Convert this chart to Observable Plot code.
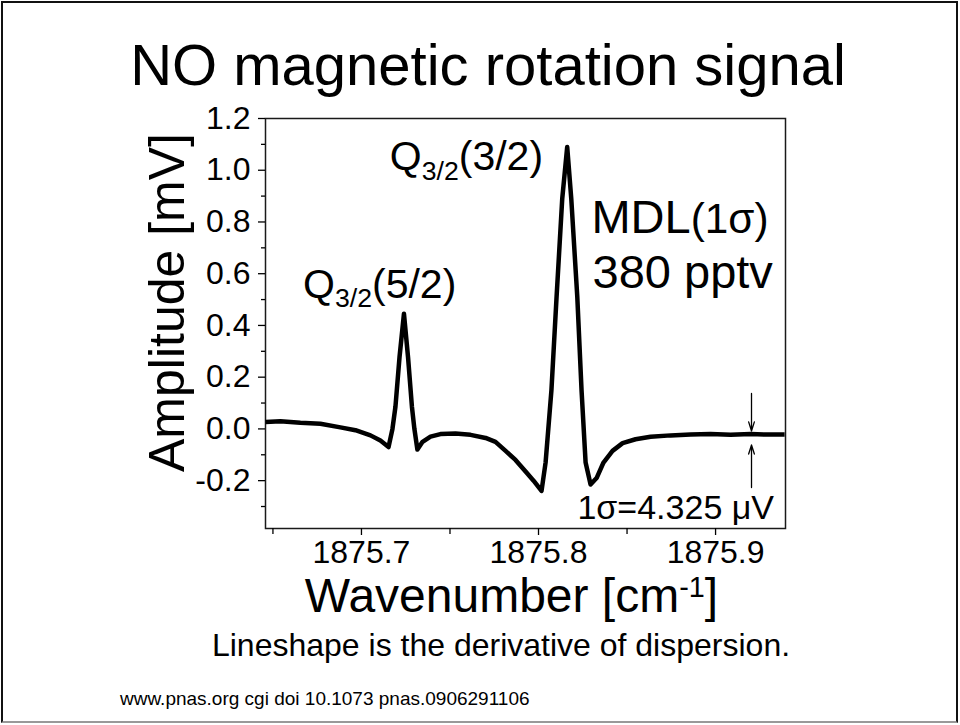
<!DOCTYPE html>
<html><head><meta charset="utf-8">
<script src="https://cdn.jsdelivr.net/npm/d3@7"></script>
<script src="https://cdn.jsdelivr.net/npm/@observablehq/plot@0.6"></script>
<style>
body{margin:0;background:#fff;}
#slide{position:relative;width:960px;height:725px;overflow:hidden;font-family:"Liberation Sans",Arial,Helvetica,sans-serif;color:#000;background:#fff;}
#border{position:absolute;left:1px;top:1px;width:957px;height:722px;box-sizing:border-box;border:2px solid #111;border-bottom-color:#999;}
#title{position:absolute;left:8px;top:36px;width:960px;text-align:center;font-size:58px;line-height:1;white-space:nowrap;}
#chart{position:absolute;left:0;top:100px;}
#caption{position:absolute;left:21px;top:629px;width:960px;text-align:center;font-size:32px;line-height:1;white-space:nowrap;}
#footer{position:absolute;left:120px;top:689px;font-size:19px;line-height:1;white-space:nowrap;}
</style></head>
<body>
<div id="slide">
  <div id="border"></div>
  <div id="title">NO magnetic rotation signal</div>
  <div id="chart"></div>
  <div id="caption">Lineshape is the derivative of dispersion.</div>
  <div id="footer">www.pnas.org cgi doi 10.1073 pnas.0906291106</div>
</div>
<script>
// Measured trace (wavenumber in cm^-1, amplitude in mV)
const wavenumber = [1875.6458, 1875.6542, 1875.6655, 1875.6768, 1875.6881, 1875.6966, 1875.7051, 1875.7107, 1875.7153, 1875.7175, 1875.7192, 1875.7215, 1875.7240, 1875.7263, 1875.7285, 1875.7299, 1875.7316, 1875.7345, 1875.7390, 1875.7446, 1875.7531, 1875.7616, 1875.7701, 1875.7757, 1875.7814, 1875.7870, 1875.7927, 1875.7972, 1875.8017, 1875.8040, 1875.8073, 1875.8102, 1875.8134, 1875.8162, 1875.8185, 1875.8219, 1875.8243, 1875.8266, 1875.8294, 1875.8328, 1875.8367, 1875.8418, 1875.8475, 1875.8548, 1875.8633, 1875.8746, 1875.8859, 1875.8972, 1875.9085, 1875.9198, 1875.9311, 1875.9390];
const amplitude = [0.027, 0.030, 0.024, 0.020, 0.006, -0.005, -0.025, -0.045, -0.070, 0.000, 0.086, 0.278, 0.445, 0.278, 0.086, 0.000, -0.080, -0.050, -0.030, -0.020, -0.018, -0.023, -0.035, -0.050, -0.085, -0.120, -0.165, -0.200, -0.240, -0.130, 0.150, 0.510, 0.890, 1.090, 0.890, 0.510, 0.150, -0.130, -0.215, -0.190, -0.130, -0.085, -0.055, -0.040, -0.030, -0.025, -0.022, -0.020, -0.023, -0.020, -0.022, -0.022];

const xDomain = [1875.6458, 1875.9395];
const yDomain = [-0.385, 1.2];
const xTicks = [1875.7, 1875.8, 1875.9];
const xMinorTicks = [1875.65, 1875.75, 1875.85];
const yTicks = [-0.2, 0.0, 0.2, 0.4, 0.6, 0.8, 1.0, 1.2];
const yMinorTicks = [-0.3, -0.1, 0.1, 0.3, 0.5, 0.7, 0.9, 1.1];

// Annotations (anchored at text baseline-left, in data coordinates)
const noteText = ["Q_{3/2}(5/2)", "Q_{3/2}(3/2)", "MDL~{(1σ)}", "380 pptv", "1σ=4.325 μV"];
const noteX = [1875.6670, 1875.7160, 1875.8299, 1875.8305, 1875.8220];
const noteY = [0.508, 1.000, 0.759, 0.543, -0.350];
const noteSize = [41, 41, 47, 47, 34];

// Noise-level arrows (1σ marker)
const arrowX = [1875.9203, 1875.9203];
const arrowFrom = [0.137, -0.2265];
const arrowTo = [-0.008, -0.062];

const xLabel = "Wavenumber [cm^{-1}]";
const yLabel = "Amplitude [mV]";

const rows = wavenumber.map((w, i) => ({w, a: amplitude[i]}));
const notes = noteText.map((t, i) => ({t, x: noteX[i], y: noteY[i], s: noteSize[i]}));
const arrows = arrowX.map((x, i) => ({x, y1: arrowFrom[i], y2: arrowTo[i]}));
const fmt = d => d.toFixed(1);

const plot = Plot.plot({
  width: 960,
  height: 525,
  marginLeft: 265,
  marginRight: 175,
  marginTop: 18,
  marginBottom: 97,
  style: {fontFamily: '"Liberation Sans", Arial, Helvetica, sans-serif', color: "#000", background: "transparent", overflow: "visible"},
  x: {domain: xDomain},
  y: {domain: yDomain},
  marks: [
    Plot.frame({stroke: "#1a1a1a", strokeWidth: 1.5}),
    Plot.axisY(yTicks, {tickSize: 7, tickPadding: 8, fontSize: 32, tickFormat: fmt, label: null, strokeWidth: 1.3}),
    Plot.axisY(yMinorTicks, {tickSize: 4, tickFormat: () => "", label: null, strokeWidth: 1.3}),
    Plot.axisX(xTicks, {tickSize: 7, tickPadding: 5, fontSize: 32, tickFormat: fmt, label: null, strokeWidth: 1.3}),
    Plot.axisX(xMinorTicks, {tickSize: 6, tickFormat: () => "", label: null, strokeWidth: 1.3}),
    Plot.line(rows, {x: "w", y: "a", stroke: "black", strokeWidth: 4.5, strokeLinejoin: "round", strokeLinecap: "butt"}),
    Plot.arrow(arrows, {x1: "x", y1: "y1", x2: "x", y2: "y2", stroke: "black", strokeWidth: 1.3, headLength: 11, headAngle: 35}),
    Plot.text(notes, {x: "x", y: "y", text: "t", fontSize: "s", textAnchor: "start", lineAnchor: "bottom", fill: "black"}),
    Plot.text([xLabel], {frameAnchor: "bottom", text: d => d, dy: 83, dx: -14, fontSize: 48, textAnchor: "middle", lineAnchor: "bottom", fill: "black"}),
    Plot.text([yLabel], {frameAnchor: "left", text: d => d, dx: -82, dy: -21, rotate: -90, fontSize: 50, textAnchor: "middle", lineAnchor: "bottom", fill: "black"})
  ]
});
document.getElementById("chart").appendChild(plot);

// Rich text: _{sub}, ^{sup}, ~{smaller on baseline}
d3.select(plot).selectAll("text").each(function() {
  const el = this;
  const s = el.textContent;
  if (!/[_^~]\{/.test(s)) return;
  const fs = parseFloat(getComputedStyle(el).fontSize);
  el.textContent = "";
  const re = /([_^~])\{([^}]*)\}|([^_^~]+)/g;
  let m, shift = 0;
  while ((m = re.exec(s))) {
    const t = d3.select(el).append("tspan");
    if (m[3]) {
      t.text(m[3]);
      if (shift) { t.attr("dy", -shift); shift = 0; }
    } else {
      const kind = m[1];
      let target = 0, scale = 1;
      if (kind === "_") { target = 0.24 * fs; scale = 0.65; }
      else if (kind === "^") { target = -0.3 * fs; scale = 0.6; }
      else { target = 0; scale = 0.9; }
      t.text(m[2]).attr("font-size", fs * scale);
      const d = target - shift;
      if (d) t.attr("dy", d);
      shift = target;
    }
  }
});
</script>
</body></html>
